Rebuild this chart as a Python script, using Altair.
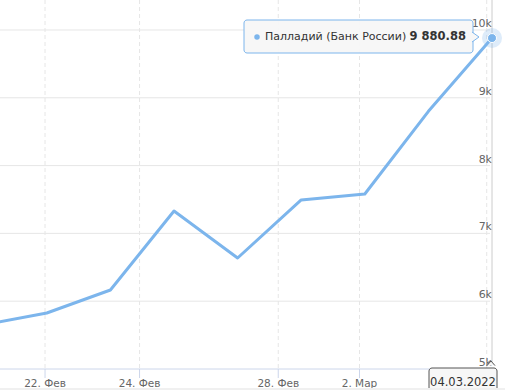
import altair as alt
import numpy as np
import pandas as pd

# ---- data ----
series_name = "Палладий (Банк России)"
point_dates = ["2022-02-19", "2022-02-22", "2022-02-23", "2022-02-25", "2022-02-26",
               "2022-03-01", "2022-03-02", "2022-03-03", "2022-03-04"]
prices = [5650, 5826, 6165, 7330, 6637, 7493, 7581, 8800, 9880.88]
tick_dates = ["2022-02-22", "2022-02-24", "2022-02-28", "2022-03-02", "2022-03-04"]
tick_labels = ["22. Фев", "24. Фев", "28. Фев", "2. Мар", ""]
y_ticks = [5000, 6000, 7000, 8000, 9000, 10000]
y_labels = ["5k", "6k", "7k", "8k", "9k", "10k"]
tooltip_value = "9 880.88"
tooltip_date = "04.03.2022"

# ---- ordinal (trading-day) x positions ----
idx = np.arange(len(point_dates), dtype=float)
pt_ts = (pd.to_datetime(point_dates) + pd.Timedelta(hours=2)).astype("int64").to_numpy()
tk_ts = pd.to_datetime(tick_dates).astype("int64").to_numpy()
tick_pos = np.interp(tk_ts, pt_ts, idx)

df = pd.DataFrame({"i": idx, "price": prices})
ticks = pd.DataFrame({"pos": tick_pos, "label": tick_labels})
ylab = pd.DataFrame({"v": y_ticks, "label": y_labels})
last = df.tail(1)

W, H = 505, 369
x_lo, x_hi = 0.264, 0.264 + W / 63.6
xs = alt.Scale(domain=[x_lo, x_hi], nice=False, zero=False)
ys = alt.Scale(domain=[5000, 10442], nice=False, zero=False)
FONT = "DejaVu Sans"
BLUE = "#7cb5ec"

vgrid = alt.Chart(ticks).mark_rule(color="#e6e6e6", strokeDash=[4, 3], strokeWidth=1).encode(
    x=alt.X("pos:Q", scale=xs, axis=None))
hgrid = alt.Chart(ylab[ylab.v > 5000]).mark_rule(color="#e6e6e6", strokeWidth=1).encode(
    y=alt.Y("v:Q", scale=ys, axis=None), x=alt.value(0), x2=alt.value(490))
xaxis = alt.Chart(ylab[ylab.v == 5000]).mark_rule(color="#ccd6eb", strokeWidth=1).encode(
    y=alt.Y("v:Q", scale=ys), x=alt.value(0), x2=alt.value(492))
xticks = alt.Chart(ticks).mark_rule(color="#ccd6eb", strokeWidth=1).encode(
    x=alt.X("pos:Q", scale=xs), y=alt.value(H), y2=alt.value(H + 9))
xlabels = alt.Chart(ticks).mark_text(font=FONT, fontSize=10.5, color="#666666",
                                     baseline="top", align="center").encode(
    x=alt.X("pos:Q", scale=xs), y=alt.value(H + 10), text="label:N")
ylabels = alt.Chart(ylab).mark_text(font=FONT, fontSize=11, color="#666666",
                                    baseline="alphabetic", align="right", dy=-3).encode(
    y=alt.Y("v:Q", scale=ys), x=alt.value(492), text="label:N")

line = alt.Chart(df).mark_line(color=BLUE, strokeWidth=3, clip=True,
                               strokeJoin="round", strokeCap="round").encode(
    x=alt.X("i:Q", scale=xs), y=alt.Y("price:Q", scale=ys))
cross = alt.Chart(last).mark_rule(color="#cccccc", strokeWidth=1).encode(
    x=alt.X("i:Q", scale=xs), y=alt.value(0), y2=alt.value(H - 7))
halo = alt.Chart(last).mark_point(shape="circle", filled=True, size=400, color=BLUE,
                                  opacity=0.25).encode(
    x=alt.X("i:Q", scale=xs), y=alt.Y("price:Q", scale=ys))
marker = alt.Chart(last).mark_point(shape="circle", filled=True, size=81, fill=BLUE,
                                    stroke="white", strokeWidth=1, opacity=1).encode(
    x=alt.X("i:Q", scale=xs), y=alt.Y("price:Q", scale=ys))

# tooltip (series)
tip_box = alt.Chart(last).mark_rect(fill="#f7f7f7", fillOpacity=0.95, stroke=BLUE,
                                    strokeWidth=1, cornerRadius=3).encode(
    x=alt.value(244), x2=alt.value(473), y=alt.value(20), y2=alt.value(53))
tip_ptr = alt.Chart(last).mark_point(shape="M-0.4,-1L1,0L-0.4,1", filled=False, size=100,
                                     fill="#f7f7f7", fillOpacity=1, stroke=BLUE,
                                     strokeWidth=1, opacity=1).encode(
    x=alt.value(474), y=alt.value(37))
tip_dot = alt.Chart(last).mark_point(shape="circle", filled=True, size=30, color=BLUE,
                                     opacity=1).encode(x=alt.value(257), y=alt.value(37))
tip_name = alt.Chart(last).mark_text(font=FONT, fontSize=11, color="#333333",
                                     align="left", baseline="middle").encode(
    x=alt.value(265), y=alt.value(37), text=alt.value(series_name))
tip_val = alt.Chart(last).mark_text(font=FONT, fontSize=11.5, color="#333333", fontWeight="bold",
                                    align="right", baseline="middle").encode(
    x=alt.value(466), y=alt.value(37), text=alt.value(tooltip_value))

# tooltip (x crosshair label)
dbox = alt.Chart(last).mark_rect(fill="#f7f7f7", stroke="#555555", strokeWidth=1,
                                 cornerRadius=3).encode(
    x=alt.value(429), x2=alt.value(497), y=alt.value(368), y2=alt.value(400))
dptr = alt.Chart(last).mark_point(shape="M-1,0.15L0,-1L1,0.15", filled=False, size=64,
                                  fill="#f7f7f7", fillOpacity=1, stroke="#555555",
                                  strokeWidth=1, opacity=1).encode(
    x=alt.value(491), y=alt.value(365))
dtext = alt.Chart(last).mark_text(font=FONT, fontSize=11.5, color="#333333",
                                  align="center", baseline="top").encode(
    x=alt.value(463), y=alt.value(377), text=alt.value(tooltip_date))

# light strip at the very bottom of the page
strip = alt.Chart(last).mark_rect(fill="#f0f0f0").encode(
    x=alt.value(0), x2=alt.value(W), y=alt.value(H + 19), y2=alt.value(H + 21))

chart = alt.layer(
    vgrid, hgrid, xaxis, xticks, xlabels, ylabels, cross, line, halo, marker,
    tip_box, tip_ptr, tip_dot, tip_name, tip_val, dbox, dptr, dtext, strip
).properties(
    width=W, height=H,
    autosize=alt.AutoSizeParams(type="none"),
    padding={"left": 0, "top": 0, "right": 0, "bottom": 21},
    background="white",
).configure_view(strokeWidth=0)

chart.save("out.html", embed_options={"renderer": "svg", "actions": False})
